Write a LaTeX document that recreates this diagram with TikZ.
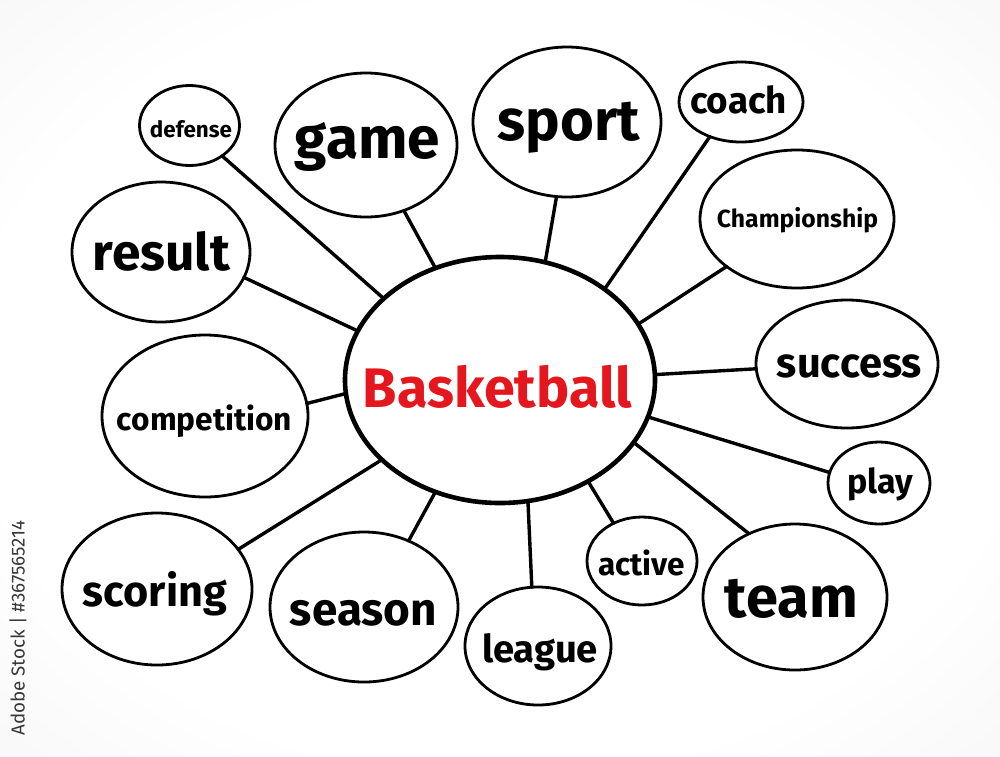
\documentclass[tikz,border=0pt]{standalone}
\usepackage{fontspec}
\setmainfont{Fira Sans}
\usepackage{graphicx}
\usetikzlibrary{shapes.geometric}
\definecolor{bred}{RGB}{228,22,30}
\definecolor{bgmid}{RGB}{238,238,241}
\definecolor{bggray}{RGB}{222,222,226}
\definecolor{stockgray}{RGB}{55,55,58}
\pgfdeclareradialshading{bgshade}{\pgfpoint{0bp}{0bp}}{color(0bp)=(white); color(26bp)=(white); color(50bp)=(bgmid); color(72bp)=(bggray); color(80bp)=(bggray)}
\newcommand{\fitw}[2]{\resizebox{#1pt}{!}{#2}}
\begin{document}
\begin{tikzpicture}[x=1pt,y=-1pt,
  bubble/.style={ellipse, draw=black, line width=2.8pt, inner sep=0pt, outer sep=0pt},
  hub/.style={ellipse, draw=black, line width=4.6pt, inner sep=0pt, outer sep=0pt},
  link/.style={line width=3.4pt, line cap=round},
  word/.style={anchor=base, inner sep=0pt, font=\bfseries, text=black},
  lightword/.style={anchor=base, inner sep=0pt, font=\bfseries, text=black}]
\useasboundingbox (0,0) rectangle (1000,756);
\shade[shading=bgshade] (0,0) rectangle (1000,756);

% bubbles
\node[hub, minimum width=310, minimum height=246] (center) at (500,380) {};
\node[bubble, minimum width=100, minimum height=80] (defense) at (189.5,125.5) {};
\node[bubble, minimum width=182, minimum height=144] (game) at (366,145) {};
\node[bubble, minimum width=178, minimum height=140] (result) at (161,252) {};
\node[bubble, minimum width=188, minimum height=150] (sport) at (567,122) {};
\node[bubble, minimum width=124, minimum height=80] (coach) at (741,102) {};
\node[bubble, minimum width=194, minimum height=138] (champ) at (797,219) {};
\node[bubble, minimum width=182, minimum height=128] (success) at (847,364) {};
\node[bubble, minimum width=102, minimum height=82] (play) at (879,483) {};
\node[bubble, minimum width=184, minimum height=146] (team) at (795,597) {};
\node[bubble, minimum width=110, minimum height=88] (active) at (642,561) {};
\node[bubble, minimum width=146, minimum height=118] (league) at (538,646) {};
\node[bubble, minimum width=188, minimum height=150] (season) at (364,607) {};
\node[bubble, minimum width=190, minimum height=152] (scoring) at (157,589) {};
\node[bubble, minimum width=206, minimum height=162] (compet) at (205,416) {};

% texts
\node[word, text=bred] (centerT) at (497.5,407) {\fitw{269}{Basketball}};
\node[lightword] (defenseT) at (191,137) {\fitw{82}{defense}};
\node[word] (gameT) at (367.5,158) {\fitw{145}{game}};
\node[word] (resultT) at (161.5,270) {\fitw{137}{result}};
\node[word] (sportT) at (569,140) {\fitw{142}{sport}};
\node[lightword] (coachT) at (738.5,113) {\fitw{97}{coach}};
\node[lightword] (champT) at (797.5,227) {\fitw{161}{Championship}};
\node[word] (successT) at (849.5,377) {\fitw{145}{success}};
\node[lightword] (playT) at (880,493) {\fitw{66}{play}};
\node[word] (teamT) at (791.5,617) {\fitw{133}{team}};
\node[lightword] (activeT) at (641.5,575) {\fitw{87}{active}};
\node[word] (leagueT) at (540,662) {\fitw{116}{league}};
\node[word] (seasonT) at (363.5,625) {\fitw{147}{season}};
\node[word] (scoringT) at (155,606) {\fitw{144}{scoring}};
\node[lightword] (competT) at (204.5,430) {\fitw{175}{competition}};

% connectors
\draw[link] (defense.-43) -- (center.145.7);
\draw[link] (game.-60.4) -- (center.120.2);
\draw[link] (result.-17.2) -- (center.161);
\draw[link] (sport.-98.7) -- (center.69.8);
\draw[link] (coach.-132.5) -- (center.41.4);
\draw[link] (champ.-146.5) -- (center.22.8);
\draw[link] (success.183.2) -- (center.2.6);
\draw[link] (play.168.5) -- (center.-14.4);
\draw[link] (team.126.4) -- (center.-25.4);
\draw[link] (active.127.6) -- (center.-49.5);
\draw[link] (league.96.9) -- (center.-77.1);
\draw[link] (season.56.7) -- (center.240.4);
\draw[link] (scoring.26.3) -- (center.-146);
\draw[link] (compet.7.3) -- (center.185.9);

% stock label
\node[rotate=90, inner sep=0pt, text=stockgray, font=\mdseries] (stock) at (18,628) {\fitw{215}{Adobe Stock | \#367565214}};
\end{tikzpicture}
\end{document}
